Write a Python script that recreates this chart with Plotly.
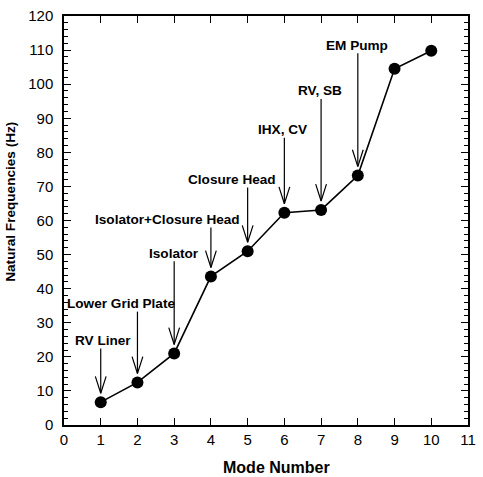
import plotly.graph_objects as go

# Natural frequency for each vibration mode
modes = [1, 2, 3, 4, 5, 6, 7, 8, 9, 10]
freqs = [6.7, 12.5, 21.0, 43.6, 51.0, 62.3, 63.1, 73.2, 104.5, 109.8]

# Component labels and the mode each one points to
labels = ["RV Liner", "Lower Grid Plate", "Isolator", "Isolator+Closure Head",
          "Closure Head", "IHX, CV", "RV, SB", "EM Pump"]
label_modes = [1, 2, 3, 4, 5, 6, 7, 8]

# Label placement in data coordinates
label_x = [1.05, 1.56, 2.99, 2.82, 4.57, 5.94, 6.97, 7.97]
label_y = [24.8, 35.6, 50.4, 60.3, 72.0, 86.6, 98.0, 111.4]

FONT = "Liberation Sans, Arial, Helvetica, sans-serif"

# Pixel scale of the plot area (412 px wide for 11 units, 412 px high for 120 units)
px_x = 412 / 11
px_y = 412 / 120
tip_gap = 9 / px_y       # space between arrow tip and marker centre
tail_gap = 8 / px_y      # space between label centre and arrow tail
head_h = 17 / px_y       # arrowhead height
head_w = 5.5 / px_x      # arrowhead half width

freq_of = dict(zip(modes, freqs))
ax, ay = [], []
for m, ly in zip(label_modes, label_y):
    tip = freq_of[m] + tip_gap
    ax += [m, m, None, m - head_w, m, m + head_w, None]
    ay += [ly - tail_gap, tip, None, tip + head_h, tip, tip + head_h, None]

fig = go.Figure()
fig.add_trace(go.Scatter(x=ax, y=ay, mode="lines",
                         line=dict(color="black", width=1.2),
                         hoverinfo="skip", showlegend=False))
fig.add_trace(go.Scatter(x=modes, y=freqs, mode="lines+markers",
                         line=dict(color="black", width=1.6),
                         marker=dict(color="black", size=12),
                         showlegend=False))

for t, x, y in zip(labels, label_x, label_y):
    fig.add_annotation(x=x, y=y, text=f"<b>{t}</b>", showarrow=False,
                       font=dict(family=FONT, size=13.6, color="black"),
                       xanchor="center", yanchor="middle")

fig.add_annotation(text="<b>Natural Frequencies (Hz)</b>", xref="paper", yref="paper",
                   x=-0.131, y=0.546, textangle=-90, showarrow=False,
                   font=dict(family=FONT, size=13.6, color="black"),
                   xanchor="center", yanchor="middle")
fig.add_annotation(text="<b>Mode Number</b>", xref="paper", yref="paper",
                   x=0.527, y=-0.104, showarrow=False,
                   font=dict(family=FONT, size=16, color="black"),
                   xanchor="center", yanchor="middle")

fig.update_xaxes(range=[0, 11], dtick=1, tick0=0, showgrid=False, zeroline=False,
                 showline=True, linecolor="black", linewidth=1.5, mirror="ticks",
                 ticks="inside", ticklen=7, tickwidth=1.2, tickcolor="black",
                 tickfont=dict(family=FONT, size=15, color="black"))
fig.update_yaxes(range=[0, 120], dtick=10, tick0=0, showgrid=False, zeroline=False,
                 showline=True, linecolor="black", linewidth=1.5, mirror="ticks",
                 ticks="inside", ticklen=7, tickwidth=1.2, tickcolor="black",
                 minor=dict(dtick=2, ticks="inside", ticklen=4, tickwidth=1,
                            tickcolor="black", showgrid=False),
                 ticklabelstandoff=6,
                 tickfont=dict(family=FONT, size=15, color="black"))

fig.update_layout(width=483, height=477, margin=dict(l=64, r=7, t=13, b=52),
                  plot_bgcolor="white", paper_bgcolor="white")

fig.write_html("out.html")
